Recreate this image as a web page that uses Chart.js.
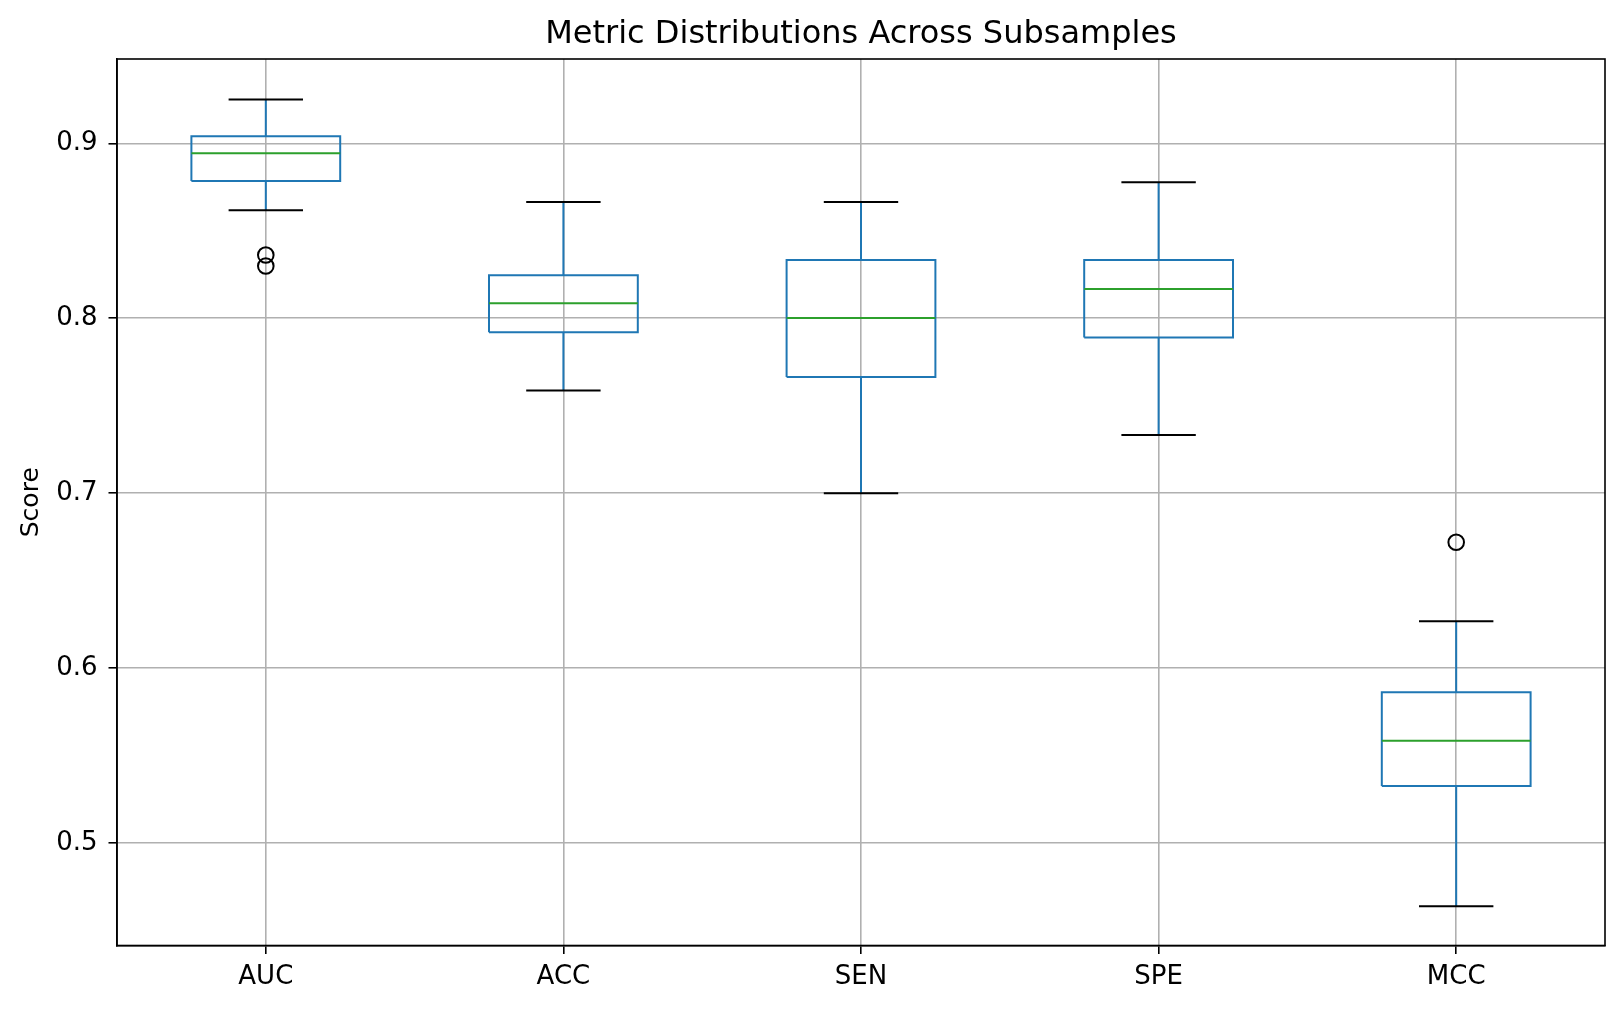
<!DOCTYPE html>
<html>
<head>
<meta charset="utf-8">
<script src="https://cdn.jsdelivr.net/npm/chart.js@4/dist/chart.umd.min.js"></script>
<style>
  html, body { margin: 0; padding: 0; background: #ffffff; }
  #wrap { width: 1624px; height: 1010px; position: relative; }
</style>
</head>
<body>
<div id="wrap"><canvas id="c" width="1624" height="1010"></canvas></div>
<script>
// ---- data ----
const categories = ["AUC", "ACC", "SEN", "SPE", "MCC"];
const whiskerLow  = [0.8617, 0.7587, 0.7000, 0.7333, 0.4640];
const q1          = [0.8785, 0.7920, 0.7665, 0.7890, 0.5327];
const medians     = [0.8943, 0.8086, 0.8002, 0.8167, 0.5585];
const q3          = [0.9040, 0.8246, 0.8333, 0.8333, 0.5863];
const whiskerHigh = [0.9251, 0.8665, 0.8665, 0.8777, 0.6269];
const outliers    = [[0.8362, 0.8299], [], [], [], [0.6720]];
const yTicks = [0.5, 0.6, 0.7, 0.8, 0.9];
const yMin = 0.4415, yMax = 0.9482;

const BOX_HALF = 0.25;
const CAP_HALF = 0.125;

// build segment lists from the arrays
const boxPts = [], whiskerPts = [], capPts = [], medPts = [], flierPts = [];
categories.forEach((c, i) => {
  const x = i + 1;
  boxPts.push({x: x - BOX_HALF, y: q1[i]}, {x: x + BOX_HALF, y: q1[i]},
              {x: x + BOX_HALF, y: q3[i]}, {x: x - BOX_HALF, y: q3[i]},
              {x: x - BOX_HALF, y: q1[i]}, {x: x, y: null});
  whiskerPts.push({x: x, y: q3[i]}, {x: x, y: whiskerHigh[i]}, {x: x, y: null},
                  {x: x, y: q1[i]}, {x: x, y: whiskerLow[i]}, {x: x, y: null});
  capPts.push({x: x - CAP_HALF, y: whiskerHigh[i]}, {x: x + CAP_HALF, y: whiskerHigh[i]}, {x: x, y: null},
              {x: x - CAP_HALF, y: whiskerLow[i]}, {x: x + CAP_HALF, y: whiskerLow[i]}, {x: x, y: null});
  medPts.push({x: x - BOX_HALF, y: medians[i]}, {x: x + BOX_HALF, y: medians[i]}, {x: x, y: null});
  outliers[i].forEach(v => flierPts.push({x: x, y: v}));
});

const seg = (label, data, color, width) => ({
  type: 'line', label, data, borderColor: color, borderWidth: width,
  pointRadius: 0, pointHoverRadius: 0, spanGaps: false, fill: false, tension: 0,
  borderCapStyle: 'butt', borderJoinStyle: 'miter'
});

const frame = {
  id: 'frame',
  afterDraw(chart) {
    const {ctx, chartArea: a} = chart;
    ctx.save();
    ctx.strokeStyle = '#000000';
    ctx.lineWidth = 1.6;
    ctx.strokeRect(a.left, a.top, a.right - a.left, a.bottom - a.top);
    ctx.restore();
  }
};

const FONT = "'DejaVu Sans', sans-serif";

new Chart(document.getElementById('c'), {
  data: {
    datasets: [
      {
        type: 'scatter', label: 'outliers', data: flierPts, showLine: false,
        pointStyle: 'circle', pointRadius: 7.8, pointHoverRadius: 7.8,
        pointBorderColor: '#000000', pointBackgroundColor: 'rgba(0,0,0,0)', pointBorderWidth: 2
      },
      seg('medians', medPts, '#2ca02c', 2),
      seg('caps', capPts, '#000000', 2),
      seg('whiskers', whiskerPts, '#1f77b4', 2),
      seg('boxes', boxPts, '#1f77b4', 2)
    ]
  },
  options: {
    responsive: false,
    devicePixelRatio: 1,
    animation: false,
    events: [],
    layout: { padding: { left: 0, right: 19, top: 0, bottom: 0 } },
    plugins: {
      legend: { display: false },
      tooltip: { enabled: false },
      title: {
        display: true,
        fullSize: false,
        text: 'Metric Distributions Across Subsamples',
        color: '#000000',
        font: { family: FONT, size: 32, weight: 'normal', lineHeight: 1.2 },
        padding: { top: 15.8, bottom: 4.8 }
      }
    },
    scales: {
      x: {
        type: 'linear',
        min: 0.5, max: 5.5,
        afterBuildTicks: (s) => { s.ticks = categories.map((c, i) => ({value: i + 1})); },
        afterFit: (s) => { s.height = 64.5; },
        ticks: {
          callback: (v) => categories[Math.round(v) - 1] ?? '',
          color: '#000000',
          font: { family: FONT, size: 26 },
          padding: 8,
          maxRotation: 0, autoSkip: false
        },
        grid: {
          color: '#b0b0b0', lineWidth: 1.6,
          drawTicks: true, tickLength: 8.5, tickColor: '#000000', tickWidth: 1.6
        },
        border: { display: true, color: '#000000', width: 1.6 }
      },
      y: {
        type: 'linear',
        min: yMin, max: yMax,
        afterBuildTicks: (s) => { s.ticks = yTicks.map(v => ({value: v})); },
        afterFit: (s) => { s.width = 117; },
        ticks: {
          callback: (v) => Number(v).toFixed(1),
          color: '#000000',
          font: { family: FONT, size: 26 },
          padding: 11
        },
        grid: {
          color: '#b0b0b0', lineWidth: 1.6,
          drawTicks: true, tickLength: 8.5, tickColor: '#000000', tickWidth: 1.6
        },
        border: { display: true, color: '#000000', width: 1.6 },
        title: {
          display: true, text: 'Score', color: '#000000',
          font: { family: FONT, size: 25, lineHeight: 1.2 },
          padding: { top: 16, bottom: 0 }
        }
      }
    }
  },
  plugins: [frame]
});
</script>
</body>
</html>
